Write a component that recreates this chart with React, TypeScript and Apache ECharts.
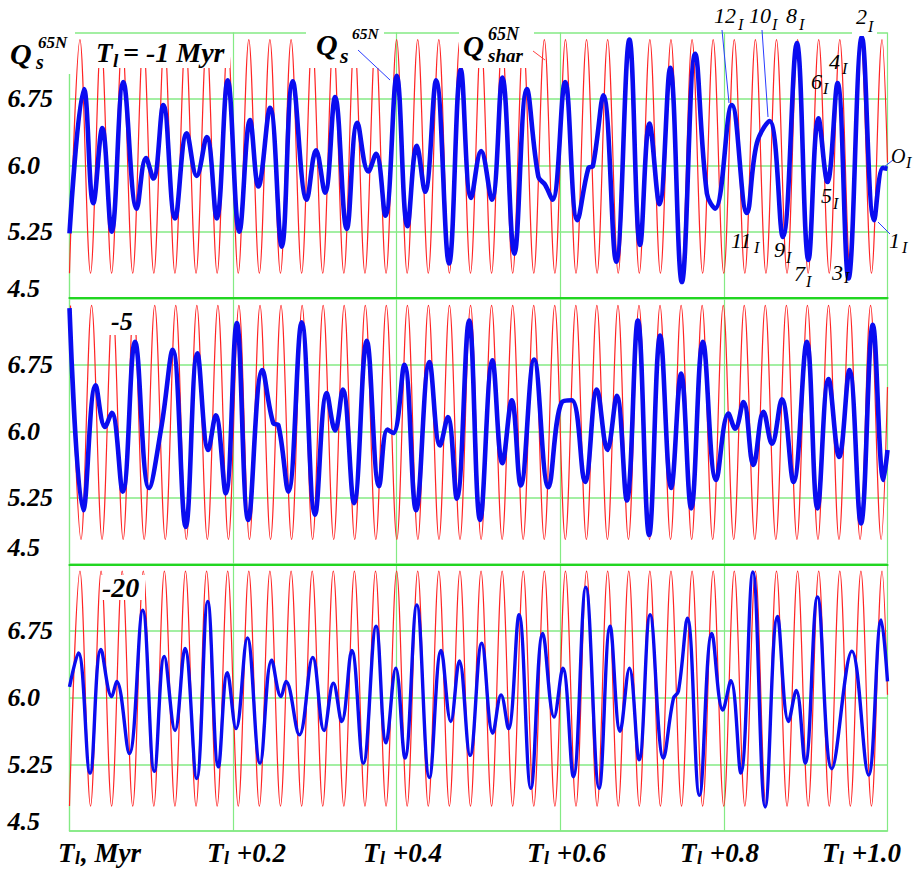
import React, { useEffect, useRef } from "react";
import * as echarts from "echarts";

// ---------- data ----------
const yTickValues = [4.5, 5.25, 6.0, 6.75, 7.5];
const yTickLabels = ["4.5", "5.25", "6.0", "6.75", ""];
const xTickSuffix = [", Myr", " +0.2", " +0.4", " +0.6", " +0.8", " +1.0"];
const panelTags = ["-5", "-20"];

// Q_shar (red harmonic): peak / trough levels and times
const sharHigh = 7.42;
const sharLow = 4.78;
const sharPeaksA = [0.0128, 0.0386, 0.0644, 0.0902, 0.116, 0.1418, 0.1676, 0.1934, 0.2192, 0.245, 0.2709, 0.2967, 0.3225, 0.3483, 0.3741, 0.3999, 0.4257, 0.4515, 0.4773, 0.5031, 0.5289, 0.5547, 0.5805, 0.6063, 0.6321, 0.6579, 0.6837, 0.7095, 0.7353, 0.7611, 0.7869, 0.8127, 0.8385, 0.8643, 0.8901, 0.9159, 0.9417, 0.9675, 0.9933];
const sharTroughsA = [0.0, 0.0257, 0.0515, 0.0773, 0.1031, 0.1289, 0.1547, 0.1805, 0.2063, 0.2321, 0.2579, 0.2838, 0.3096, 0.3354, 0.3612, 0.387, 0.4128, 0.4386, 0.4644, 0.4902, 0.516, 0.5418, 0.5676, 0.5934, 0.6192, 0.645, 0.6708, 0.6966, 0.7224, 0.7482, 0.774, 0.7998, 0.8256, 0.8514, 0.8772, 0.903, 0.9288, 0.9546, 0.9804];
const sharEndA: [number, number] = [1.0, 6.03];
const sharPeaksB = [0.0012, 0.027, 0.0527, 0.0784, 0.1042, 0.1299, 0.1557, 0.1814, 0.2071, 0.2329, 0.2586, 0.2844, 0.3101, 0.3358, 0.3616, 0.3873, 0.4131, 0.4388, 0.4645, 0.4903, 0.516, 0.5418, 0.5675, 0.5932, 0.619, 0.6447, 0.6705, 0.6962, 0.7219, 0.7477, 0.7734, 0.7992, 0.8249, 0.8506, 0.8764, 0.9021, 0.9279, 0.9536, 0.9793];
const sharTroughsB = [0.0141, 0.0398, 0.0656, 0.0913, 0.1171, 0.1428, 0.1685, 0.1943, 0.22, 0.2458, 0.2715, 0.2972, 0.323, 0.3487, 0.3745, 0.4002, 0.4259, 0.4517, 0.4774, 0.5032, 0.5289, 0.5546, 0.5804, 0.6061, 0.6319, 0.6576, 0.6833, 0.7091, 0.7348, 0.7606, 0.7863, 0.812, 0.8378, 0.8635, 0.8893, 0.915, 0.9407, 0.9665, 0.9922];
const sharEndB: [number, number] = [1.0, 6.5];

// Q_s^65N (blue) for T_l = -1, -5, -20 Myr : [time offset Myr, value]
const qsMinus1: [number, number][] = [
  [0, 5.23], [0.0177, 6.86], [0.0291, 5.57], [0.0401, 6.42], [0.0516, 5.25], [0.0658, 6.94], [0.0822, 5.51], [0.0935, 6.08], [0.1025, 5.85], [0.1147, 6.68], [0.129, 5.4], [0.1433, 6.36], [0.1555, 5.88], [0.1678, 6.32], [0.18, 5.4], [0.1934, 6.96], [0.2076, 5.25], [0.2207, 6.51], [0.2309, 5.76], [0.2452, 6.65], [0.2595, 5.08], [0.2729, 6.95], [0.29, 5.61], [0.3014, 6.17], [0.3124, 5.69], [0.3247, 6.77], [0.339, 5.28], [0.3519, 6.48], [0.3654, 5.93], [0.3748, 6.13], [0.3862, 5.43], [0.4001, 7.01], [0.4131, 5.31], [0.4246, 6.22], [0.4347, 5.7], [0.4482, 6.96], [0.464, 4.89], [0.4784, 7.08], [0.491, 5.63], [0.5032, 6.16], [0.5163, 5.61], [0.5292, 6.99], [0.5439, 5.0], [0.5591, 6.86], [0.5732, 5.87], [0.5814, 5.78], [0.5904, 5.61], [0.6059, 6.94], [0.6209, 5.38], [0.6344, 5.97], [0.6398, 5.99], [0.6527, 6.79], [0.6683, 4.91], [0.6845, 7.42], [0.6976, 5.1], [0.709, 6.47], [0.7212, 5.56], [0.7343, 7.1], [0.7486, 4.68], [0.7649, 7.26], [0.7792, 5.68], [0.7893, 5.51], [0.8097, 6.68], [0.8281, 5.46], [0.8403, 6.25], [0.8557, 6.5], [0.8721, 5.19], [0.8892, 7.38], [0.9034, 4.93], [0.9156, 6.53], [0.9266, 5.81], [0.9389, 6.93], [0.9523, 4.72], [0.9687, 7.45], [0.9837, 5.38], [0.9944, 5.97], [1.0, 5.96],
];
const qsMinus5: [number, number][] = [
  [0, 7.39], [0.0169, 5.11], [0.032, 6.52], [0.0434, 6.05], [0.0516, 6.21], [0.0651, 5.32], [0.0801, 7.01], [0.0972, 5.36], [0.1127, 6.07], [0.1262, 6.92], [0.1421, 4.92], [0.1563, 6.88], [0.1697, 5.79], [0.1788, 6.18], [0.191, 5.3], [0.2045, 7.22], [0.2186, 5.0], [0.2358, 6.69], [0.2492, 6.09], [0.2553, 6.07], [0.2675, 5.32], [0.2839, 7.23], [0.3002, 5.06], [0.3145, 6.43], [0.3247, 6.01], [0.3341, 6.47], [0.3479, 5.19], [0.3634, 7.02], [0.3785, 5.38], [0.3886, 6.02], [0.3959, 5.98], [0.4094, 6.75], [0.4237, 5.11], [0.44, 6.78], [0.453, 5.84], [0.4625, 6.16], [0.4735, 5.24], [0.4885, 7.25], [0.502, 5.0], [0.517, 6.8], [0.5292, 5.64], [0.5407, 6.35], [0.5517, 5.39], [0.568, 6.81], [0.5855, 5.37], [0.6019, 6.33], [0.6141, 6.35], [0.6303, 5.43], [0.6447, 6.47], [0.6576, 5.79], [0.6691, 6.4], [0.6813, 5.22], [0.6948, 7.25], [0.7086, 4.83], [0.7221, 7.08], [0.7355, 5.36], [0.7477, 6.65], [0.76, 5.13], [0.7743, 7.01], [0.7905, 5.45], [0.8056, 6.2], [0.8138, 6.03], [0.8239, 6.33], [0.8361, 5.62], [0.8484, 6.22], [0.8587, 5.86], [0.8709, 6.36], [0.8851, 5.43], [0.9014, 7.01], [0.9144, 5.13], [0.9279, 6.59], [0.9409, 5.71], [0.9535, 6.69], [0.9675, 4.96], [0.9821, 7.2], [0.9951, 5.45], [1.0, 5.79],
];
const qsMinus20: [number, number][] = [
  [0, 6.12], [0.0108, 6.5], [0.0251, 5.15], [0.0385, 6.54], [0.0516, 6.01], [0.0577, 6.18], [0.0731, 5.37], [0.0895, 6.98], [0.1037, 5.17], [0.1159, 6.46], [0.129, 5.63], [0.1412, 6.55], [0.1555, 5.09], [0.169, 7.08], [0.182, 5.22], [0.193, 6.28], [0.2036, 5.65], [0.2174, 6.67], [0.2329, 5.26], [0.2472, 6.42], [0.2586, 6.01], [0.2647, 6.18], [0.281, 5.58], [0.2974, 6.45], [0.3112, 5.63], [0.3226, 6.16], [0.3328, 5.73], [0.3451, 6.53], [0.3593, 5.26], [0.3748, 6.8], [0.387, 5.49], [0.3989, 6.33], [0.4102, 5.32], [0.4246, 7.04], [0.44, 5.1], [0.4543, 6.53], [0.4661, 5.73], [0.4766, 6.41], [0.4897, 5.35], [0.504, 6.61], [0.5175, 5.6], [0.5276, 6.03], [0.5366, 5.65], [0.5496, 6.93], [0.564, 4.98], [0.5786, 6.72], [0.5924, 5.78], [0.6031, 6.33], [0.616, 5.11], [0.6312, 7.24], [0.6475, 4.98], [0.6609, 6.8], [0.6731, 5.62], [0.6845, 6.33], [0.6964, 5.3], [0.7098, 6.93], [0.7261, 5.32], [0.7383, 5.99], [0.7444, 6.07], [0.7554, 6.89], [0.7701, 4.9], [0.7853, 6.72], [0.7987, 5.86], [0.8085, 6.19], [0.8207, 5.15], [0.8354, 7.41], [0.8505, 4.77], [0.8655, 6.91], [0.879, 5.73], [0.8884, 6.08], [0.8994, 5.26], [0.9144, 7.13], [0.932, 5.2], [0.9565, 6.52], [0.9768, 5.13], [0.9923, 6.87], [1.0, 6.18],
];

// ---------- helpers ----------
function buildShar(peaks: number[], troughs: number[], end: [number, number]) {
  const pts: [number, number][] = [];
  peaks.forEach((t) => pts.push([t, sharHigh]));
  troughs.forEach((t) => pts.push([t, sharLow]));
  pts.sort((a, b) => a[0] - b[0]);
  pts.push(end);
  return pts;
}

const SERIF = '"Liberation Serif", "Times New Roman", serif';
const GRID_LIGHT = "#84ea84";
const GRID_DARK = "#22d622";
const BLUE = "#0a0cf0";
const RED = "#ff2424";

function txt(text: string, x: number, y: number, size: number, bold = true, italic = true) {
  return {
    type: "text",
    x,
    y,
    z: 120,
    silent: true,
    style: {
      text,
      fill: "#000",
      fontSize: size,
      fontFamily: SERIF,
      fontWeight: bold ? "bold" : "normal",
      fontStyle: italic ? "italic" : "normal",
      align: "left",
      verticalAlign: "middle",
    },
  };
}
function rect(x: number, y: number, w: number, h: number) {
  return { type: "rect", z: 100, silent: true, shape: { x, y, width: w, height: h }, style: { fill: "#fff" } };
}
function lead(x1: number, y1: number, x2: number, y2: number, color: string) {
  return { type: "line", z: 110, silent: true, shape: { x1, y1, x2, y2 }, style: { stroke: color, lineWidth: 1 } };
}

export default function App() {
  const ref = useRef<HTMLDivElement>(null);

  useEffect(() => {
    if (!ref.current) return;
    const chart = echarts.init(ref.current, null, { renderer: "svg" });

    const grids = [
      { left: 69.5, top: 32.5, width: 818, height: 265.5 },
      { left: 69.5, top: 298.3, width: 818, height: 266 },
      { left: 69.5, top: 564, width: 818, height: 267 },
    ];
    const lowShift = [19, 34, 20];
    const blueSets = [qsMinus1, qsMinus5, qsMinus20];
    const redSets = [
      buildShar(sharPeaksA, sharTroughsA, sharEndA),
      buildShar(sharPeaksB, sharTroughsB, sharEndB),
      buildShar(sharPeaksA, sharTroughsA, sharEndA),
    ];

    const labelFont = { fontSize: 26, fontWeight: "bold", fontStyle: "italic", fontFamily: SERIF, color: "#000" };

    const xAxes = grids.map((_, i) => ({
      type: "value",
      gridIndex: i,
      min: 0,
      max: 1,
      interval: 0.2,
      axisLabel: { show: false },
      axisTick: { show: false },
      axisLine: {
        show: true,
        onZero: false,
        lineStyle: { color: i < 2 ? GRID_DARK : GRID_LIGHT, width: i < 2 ? 2.2 : 1.5 },
      },
      splitLine: { show: true, lineStyle: { color: GRID_LIGHT, width: 1.2 } },
    }));

    const yAxes = grids.map((_, i) => ({
      type: "value",
      gridIndex: i,
      min: 4.5,
      max: 7.5,
      interval: 0.75,
      axisTick: { show: false },
      axisLine: { show: true, lineStyle: { color: GRID_LIGHT, width: 1.2 } },
      splitLine: { show: true, lineStyle: { color: GRID_LIGHT, width: 1.5 } },
      axisLabel: {
        show: true,
        showMinLabel: true,
        showMaxLabel: true,
        align: "left",
        margin: 62,
        ...labelFont,
        formatter: (v: number) => {
          const k = yTickValues.findIndex((t) => Math.abs(t - v) < 1e-6);
          if (k < 0) return "";
          const s = yTickLabels[k];
          if (!s) return "";
          return k === 0 ? `{low|${s}}` : `{n|${s}}`;
        },
        rich: {
          n: { ...labelFont },
          low: { ...labelFont, padding: [0, 0, lowShift[i], 0] },
        },
      },
    }));

    const series: any[] = [];
    grids.forEach((_, i) => {
      series.push({
        type: "line",
        xAxisIndex: i,
        yAxisIndex: i,
        data: redSets[i],
        symbol: "none",
        smooth: 0.36,
        lineStyle: { color: RED, width: 1.2 },
        z: 2,
        silent: true,
      });
      series.push({
        type: "line",
        xAxisIndex: i,
        yAxisIndex: i,
        data: blueSets[i],
        symbol: "none",
        smooth: 0.4,
        lineStyle: { color: BLUE, width: i === 2 ? 3.4 : 4.6 },
        z: 3,
        silent: true,
      });
    });

    // ---------- annotations ----------
    const xLabelLeft = [58, 207, 363, 527, 680, 822];
    const graphics: any[] = [
      rect(0, 20, 75, 54),
      rect(88, 34, 142, 34),
      rect(306, 22, 78, 46),
      rect(459, 22, 75, 46),
      rect(852, 4, 25, 32),
      rect(100, 303, 45, 32),
      rect(101, 575, 44, 25),
      // top-left Q_s^65N
      txt("Q", 10, 53, 30),
      txt("s", 36, 61.5, 20),
      txt("65N", 38, 42, 17),
      // T_l = -1 Myr
      txt("T", 96, 52.5, 27),
      txt("l", 113, 60, 19),
      txt("= -1 Myr", 123, 52.5, 28),
      // Q_s^65N (middle)
      txt("Q", 316, 44, 30),
      txt("s", 340, 55, 22),
      txt("65N", 352, 33, 15.5),
      lead(358, 50, 390, 80, "#2a3cff"),
      // Q_shar^65N
      txt("Q", 463, 46, 29),
      txt("shar", 488, 55.5, 19),
      txt("65N", 488, 34, 18),
      lead(533, 51, 545, 60, "#ff4040"),
      // panel tags
      txt(panelTags[0], 111, 321.5, 26),
      txt(panelTags[1], 102, 587, 28),
      // extremum labels
      txt("12", 714, 15, 22, false), txt("I", 738, 24, 16, false),
      txt("10", 749, 15, 22, false), txt("I", 772, 24, 16, false),
      txt("8", 786, 15, 22, false), txt("I", 799, 24, 16, false),
      txt("2", 856, 16.5, 22, false), txt("I", 868, 26, 16, false),
      txt("4", 829, 61.5, 22, false), txt("I", 842, 68, 16, false),
      txt("6", 811, 81.5, 22, false), txt("I", 823, 88, 16, false),
      txt("O", 891, 155.5, 20, false), txt("I", 906, 162.5, 16, false),
      txt("5", 821, 195.5, 22, false), txt("I", 833, 203.5, 16, false),
      txt("1", 889, 240.5, 22, false), txt("I", 902, 247, 16, false),
      txt("11", 731, 240.5, 22, false), txt("I", 754, 247, 16, false),
      txt("9", 774, 249.5, 22, false), txt("I", 786, 257, 16, false),
      txt("7", 794, 273.5, 22, false), txt("I", 806, 281, 16, false),
      txt("3", 832, 272.5, 22, false), txt("I", 844, 277, 16, false),
      lead(722, 30, 729, 103, "#2a3cff"),
      lead(762, 30, 768, 117, "#2a3cff"),
      lead(884, 167, 893, 160, "#2a3cff"),
      lead(878, 222, 890, 234, "#2a3cff"),
    ];
    xTickSuffix.forEach((suf, k) => {
      const x0 = xLabelLeft[k];
      graphics.push(txt("T", x0, 853, 27));
      graphics.push(txt("l", x0 + 17, 857.5, 18));
      graphics.push(txt(suf, x0 + 23, 853, 27));
    });

    chart.setOption({
      animation: false,
      backgroundColor: "#fff",
      grid: grids,
      xAxis: xAxes,
      yAxis: yAxes,
      series,
      graphic: { elements: graphics },
    });

    return () => chart.dispose();
  }, []);

  return (
    <div
      ref={ref}
      style={{ position: "fixed", left: 0, top: 0, width: 919, height: 869, background: "#fff" }}
    />
  );
}
